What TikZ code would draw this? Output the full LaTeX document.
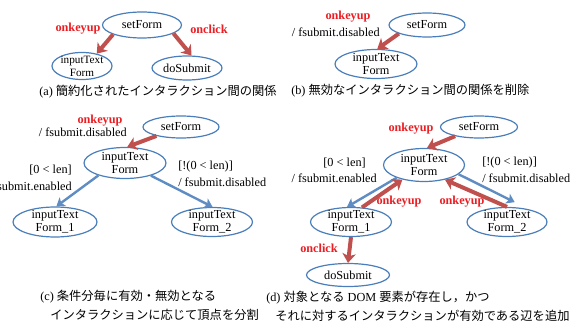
\documentclass[tikz,border=0pt]{standalone}
\usepackage{fontspec}
\setmainfont{Liberation Serif}
\newfontfamily\jp{Noto Sans CJK JP}
\usetikzlibrary{shapes.geometric,arrows.meta}
\definecolor{ellc}{RGB}{74,126,187}
\definecolor{arrred}{RGB}{192,80,77}
\definecolor{arrblue}{RGB}{95,140,195}
\definecolor{lblred}{RGB}{235,30,35}
\begin{document}
\begin{tikzpicture}[x=0.75pt,y=-0.75pt,
  font=\fontsize{9.2}{9.8}\selectfont,
  st/.style n args={3}{ellipse,draw=ellc,line width=0.9pt,
    minimum width=#1*0.75pt,minimum height=#2*0.75pt,inner sep=0pt,
    label={[align=center,inner sep=0pt,font=\fontsize{9.2}{9.8}\selectfont]center:#3}},
  sts/.style n args={3}{ellipse,draw=ellc,line width=0.9pt,
    minimum width=#1*0.75pt,minimum height=#2*0.75pt,inner sep=0pt,
    label={[align=center,inner sep=0pt,font=\fontsize{8.4}{9.8}\selectfont]center:#3}},
  rarr/.style={draw=arrred,line width=3pt,line join=miter,-{Stealth[length=7pt,width=10pt,inset=2pt]}},
  barr/.style={draw=arrblue,line width=1.8pt,line join=miter,-{Stealth[length=6pt,width=8pt,inset=1.5pt]}},
  lbl/.style={text=lblred,inner sep=0pt,font=\fontsize{9.2}{9.8}\selectfont\bfseries},
  txt/.style={inner sep=0pt},
  capt/.style={inner sep=0pt,anchor=west}]
\useasboundingbox (0,0) rectangle (578,324);
\clip (0,0) rectangle (578,324);

% (a)
\node[st={79}{26}{setForm}] (setA) at (142,25) {};
\node[sts={60}{27}{inputText\\Form}] (inA) at (82,66) {};
\node[st={70}{24}{doSubmit}] (doA) at (187,68) {};
\draw[rarr] (setA.198) -- (inA.40);
\draw[rarr] (setA.345) -- (doA.70);
\node[lbl] (la1) at (78,29) {onkeyup};
\node[lbl] (la2) at (209,29) {onclick};
\node[capt] (capA) at (39,92) {(a) {\jp 簡約化されたインタラクション間の関係}};

% (b)
\node[st={76}{24}{setForm}] (setB) at (427,25) {};
\node[st={82}{29}{inputText\\Form}] (inB) at (376,64) {};
\draw[rarr] (setB.197) -- (inB.85);
\node[lbl] (lb1) at (348,17) {onkeyup};
\node[txt,anchor=east] (lb2) at (380,32) {/ fsubmit.disabled};
\node[capt] (capB) at (291,91) {(b) {\jp 無効なインタラクション間の関係を削除}};

% (c)
\node[st={76}{22}{setForm}] (setC) at (181,127) {};
\node[st={82}{31}{inputText\\Form}] (inC) at (125,163) {};
\node[st={84}{30}{inputText\\Form\_1}] (c1) at (55,222) {};
\node[st={81}{29}{inputText\\Form\_2}] (c2) at (212,222) {};
\draw[rarr] (setC.200) -- (inC.82);
\draw[barr] (inC.205) -- (c1.85);
\draw[barr] (inC.334) -- (c2.88);
\node[lbl] (lc1) at (100,121) {onkeyup};
\node[txt,anchor=east] (lc2) at (127,132) {/ fsubmit.disabled};
\node[txt,anchor=east] (lc3) at (72,170) {[0 < len]};
\node[txt,anchor=east] (lc4) at (72,186) {/ fsubmit.enabled};
\node[txt,anchor=west] (lc5) at (178,167) {[!(0 < len)]};
\node[txt,anchor=west] (lc6) at (178,182) {/ fsubmit.disabled};
\node[capt] (capC1) at (40,297) {(c) {\jp 条件分毎に有効・無効となる}};
\node[capt] (capC2) at (50,315) {\jp インタラクションに応じて頂点を分割};

% (d)
\node[st={77}{22}{setForm}] (setD) at (479,127) {};
\node[st={81}{33}{inputText\\Form}] (inD) at (424,165) {};
\node[st={81}{29}{inputText\\Form\_1}] (d1) at (351,222) {};
\node[st={80}{29}{inputText\\Form\_2}] (d2) at (507,222) {};
\node[st={83}{23}{doSubmit}] (doD) at (348,275) {};
\draw[rarr] (setD.201) -- (inD.80);
\draw[barr] (inD.205) -- (d1.105);
\draw[rarr] (d1.53) -- (inD.214);
\draw[barr,shorten >=12pt] (inD.345) -- (d2.30);
\draw[rarr] (d2.90) -- (inD.325);
\draw[rarr] (d1.south) -- (doD.north);
\node[lbl] (ld1) at (411,129) {onkeyup};
\node[txt,anchor=east] (ld2) at (366,163) {[0 < len]};
\node[txt,anchor=east] (ld3) at (377,178) {/ fsubmit.enabled};
\node[txt,anchor=west] (ld4) at (482,163) {[!(0 < len)]};
\node[txt,anchor=west] (ld5) at (482,178) {/ fsubmit.disabled};
\node[lbl] (ld6) at (399,202) {onkeyup};
\node[lbl] (ld7) at (462,202) {onkeyup};
\node[lbl] (ld8) at (319,248) {onclick};
\node[capt] (capD1) at (266,298) {(d) {\jp 対象となる} DOM {\jp 要素が存在し，かつ}};
\node[capt] (capD2) at (275,316) {\jp それに対するインタラクションが有効である辺を追加};
\end{tikzpicture}
\end{document}
